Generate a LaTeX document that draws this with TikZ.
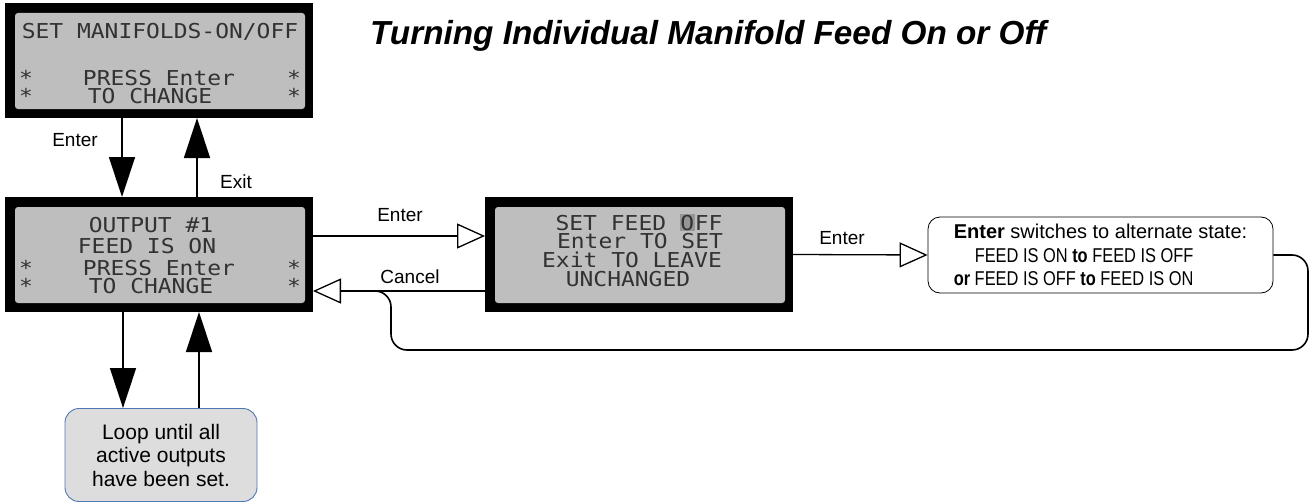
\documentclass[tikz,border=0pt]{standalone}
\usepackage{fontspec}
\setmainfont{Liberation Sans}
\newfontfamily\lcdfont[FakeStretch=1.12]{DejaVu Sans Mono}
\newfontfamily\narrowfont[FakeStretch=0.82]{Liberation Sans}
\usetikzlibrary{arrows.meta,calc}

\definecolor{lcdback}{RGB}{190,190,190}
\definecolor{lcdtext}{RGB}{50,50,50}
\definecolor{lcdcursor}{RGB}{150,150,150}
\definecolor{loopfill}{RGB}{221,221,221}
\definecolor{loopedge}{RGB}{79,120,180}

\tikzset{
  lcd/.style={fill=black, minimum width=308pt, minimum height=115pt,
    inner sep=0pt, outer sep=0pt,
    path picture={\fill[lcdback, rounded corners=3pt]
      ([shift={(10pt,9pt)}]path picture bounding box.south west) rectangle
      ([shift={(-8pt,-10pt)}]path picture bounding box.north east);}},
  lcdline/.style={font=\lcdfont\fontsize{20.5}{20.5}\selectfont,
    text=lcdtext, anchor=base, inner sep=0pt},
  lcdstar/.style={lcdline},
  lbl/.style={font=\fontsize{19}{19}\selectfont, inner sep=0pt},
  bigarrow/.style={line width=1.4pt, -{Triangle[length=40pt, width=26pt]}},
  openarrow/.style={line width=1.3pt,
    -{Triangle[open, length=28pt, width=25pt]}},
}

\begin{document}
\begin{tikzpicture}[x=1pt, y=-1pt]
  \useasboundingbox[fill=white] (0,0) rectangle (1313,503);

  % title
  \node[anchor=base west, inner sep=0pt,
        font=\fontsize{33.3}{33.3}\selectfont\bfseries\itshape] (title)
        at (370,45) {Turning Individual Manifold Feed On or Off};

  % LCD screens
  \node[lcd] (lcd1) at (159,60.5) {};
  \node[lcd] (lcd2) at (159,254.5) {};
  \node[lcd] (lcd3) at (639,254.5) {};

  % screen 1 text
  \node[lcdline] (s1a) at (160,38) {SET MANIFOLDS-ON/OFF};
  \node[lcdline] (s1b) at (159,85) {PRESS Enter};
  \node[lcdline] (s1c) at (150,103.5) {TO CHANGE};
  \node[lcdstar] (s1d) at (26,85) {*};
  \node[lcdstar] (s1e) at (294,85) {*};
  \node[lcdstar] (s1f) at (26,103.5) {*};
  \node[lcdstar] (s1g) at (294,103.5) {*};

  % screen 2 text
  \node[lcdline] (s2a) at (151,232) {OUTPUT \#1};
  \node[lcdline] (s2b) at (147,253) {FEED IS ON};
  \node[lcdline] (s2c) at (159,275) {PRESS Enter};
  \node[lcdline] (s2d) at (151,293) {TO CHANGE};
  \node[lcdstar] (s2e) at (26,275) {*};
  \node[lcdstar] (s2f) at (294,275) {*};
  \node[lcdstar] (s2g) at (26,293) {*};
  \node[lcdstar] (s2h) at (294,293) {*};

  % screen 3 text
  \node[lcdline] (s3a) at (639,230)
    {SET FEED {\fboxsep=0.5pt\colorbox{lcdcursor}{O}}FF};
  \node[lcdline] (s3b) at (640,248) {Enter TO SET};
  \node[lcdline] (s3c) at (632,267) {Exit TO LEAVE};
  \node[lcdline] (s3d) at (628,286) {UNCHANGED};

  % explanation box
  \node[draw, rounded corners=12pt, line width=0.8pt,
        minimum width=345pt, minimum height=76pt, align=left, inner sep=0pt,
        font=\fontsize{20}{23.5}\selectfont] (desc) at (1100.5,255)
    {\textbf{Enter} switches to alternate state:\\
     {\narrowfont\hspace*{21pt}FEED IS ON \textbf{to} FEED IS OFF}\\
     {\narrowfont\textbf{or} FEED IS OFF \textbf{to} FEED IS ON}};

  % loop note
  \node[draw=loopedge, fill=loopfill, rounded corners=14pt, line width=0.9pt,
        minimum width=192pt, minimum height=93pt, align=center, inner sep=0pt,
        font=\fontsize{21}{23.5}\selectfont] (loopbox) at (161,455)
    {Loop until all\\active outputs\\have been set.};

  % vertical transitions
  \draw[bigarrow] ([xshift=-37pt]lcd1.south) -- ([xshift=-37pt]lcd2.north);
  \draw[bigarrow] ([xshift=38pt]lcd2.north) -- ([xshift=38pt]lcd1.south);
  \draw[bigarrow] ([xshift=-36pt]lcd2.south) -- ([xshift=-36pt]lcd2.south |- loopbox.north);
  \draw[bigarrow] ([xshift=40pt]lcd2.south |- loopbox.north) -- ([xshift=40pt]lcd2.south);

  % horizontal transitions
  \draw[openarrow] ([yshift=18.5pt]lcd2.east) -- ([yshift=18.5pt]lcd2.east -| lcd3.west);
  \draw[openarrow] ([yshift=-36.5pt]lcd3.west) -- ([yshift=-36.5pt]lcd3.west -| lcd2.east);
  \draw[openarrow] (lcd3.east) -- (desc.west);

  % return path from the explanation box
  \coordinate (join) at ($([yshift=-36.5pt]lcd2.east)+(60pt,0pt)$);
  \draw[line width=1.6pt, rounded corners=16pt]
    (desc.east) -- (1308,255) -- (1308,350) -- (391,350) -- (391,291) -- (join);

  % key labels
  \node[lbl] (kEnter1) at (75,140) {Enter};
  \node[lbl] (kExit) at (236,182) {Exit};
  \node[lbl] (kEnter2) at (400,215) {Enter};
  \node[lbl] (kCancel) at (410,277) {Cancel};
  \node[lbl] (kEnter3) at (842,238) {Enter};
\end{tikzpicture}
\end{document}
